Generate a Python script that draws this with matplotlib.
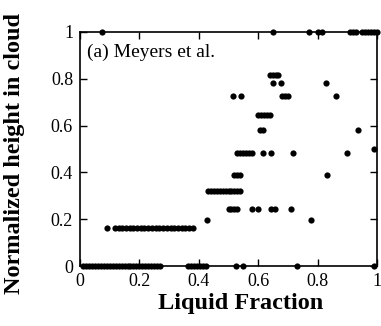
import numpy as np
import matplotlib.pyplot as plt

plt.rcParams['font.family'] = ['Liberation Serif', 'DejaVu Serif']

# liquid fraction / normalized height pairs, grouped by height level
x_h000 = [0.01, 0.02, 0.03, 0.04, 0.05, 0.06, 0.07, 0.08, 0.09, 0.10, 0.11, 0.12,
          0.13, 0.14, 0.15, 0.16, 0.17, 0.18, 0.19, 0.20, 0.21, 0.22, 0.23, 0.24,
          0.25, 0.26, 0.27, 0.365, 0.375, 0.385, 0.395, 0.405, 0.415, 0.425,
          0.525, 0.55, 0.73, 0.99]
x_h016 = [0.09, 0.118, 0.13, 0.142, 0.155, 0.167, 0.18, 0.192, 0.205, 0.217, 0.23,
          0.242, 0.255, 0.267, 0.28, 0.292, 0.305, 0.317, 0.33, 0.342, 0.355,
          0.367, 0.38]
x_h020 = [0.428, 0.777]
x_h024 = [0.50, 0.51, 0.52, 0.53, 0.58, 0.60, 0.643, 0.657, 0.71]
x_h032 = [0.43, 0.44, 0.45, 0.46, 0.47, 0.48, 0.49, 0.50, 0.51, 0.52, 0.53, 0.54]
x_h039 = [0.52, 0.53, 0.54, 0.83]
x_h048 = [0.53, 0.54, 0.55, 0.56, 0.57, 0.58, 0.617, 0.643, 0.717, 0.90]
x_h050 = [0.99]
x_h058 = [0.605, 0.617, 0.937]
x_h064 = [0.60, 0.61, 0.62, 0.63, 0.64]
x_h073 = [0.515, 0.542, 0.68, 0.69, 0.70, 0.862]
x_h078 = [0.65, 0.677, 0.828]
x_h082 = [0.64, 0.65, 0.66, 0.667]
x_h100 = [0.074, 0.65, 0.77, 0.80, 0.815, 0.91, 0.92, 0.93, 0.95, 0.96, 0.97,
          0.98, 0.99, 1.0]

levels = [0.0, 0.164, 0.197, 0.244, 0.322, 0.389, 0.483, 0.50, 0.581, 0.645,
          0.728, 0.782, 0.816, 1.0]
groups = [x_h000, x_h016, x_h020, x_h024, x_h032, x_h039, x_h048, x_h050,
          x_h058, x_h064, x_h073, x_h078, x_h082, x_h100]

xs = []
ys = []
for lev, g in zip(levels, groups):
    xs += g
    ys += [lev] * len(g)

fig = plt.figure(figsize=(3.81, 3.26), dpi=100)
ax = fig.add_axes([0.21, 0.184, 0.7795, 0.718])
ax.scatter(xs, ys, s=20, c='black', linewidths=0, clip_on=False, zorder=3)

ax.set_xlim(0, 1)
ax.set_ylim(0, 1)
ticks = [0, 0.2, 0.4, 0.6, 0.8, 1]
labels = ['0', '0.2', '0.4', '0.6', '0.8', '1']
ax.set_xticks(ticks)
ax.set_xticklabels(labels)
ax.set_yticks(ticks)
ax.set_yticklabels(labels)
ax.tick_params(direction='in', top=True, right=True, length=5, width=1,
               labelsize=13, pad=5)
for sp in ax.spines.values():
    sp.set_linewidth(1.2)

ax.set_xlabel('Liquid Fraction', fontsize=17.5, fontweight='bold')
ax.xaxis.set_label_coords(0.54, -0.115)
ax.set_ylabel('Normalized height in cloud', fontsize=17.5, fontweight='bold')
ax.yaxis.set_label_coords(-0.185, 0.48)
ax.text(0.025, 0.915, '(a) Meyers et al.', transform=ax.transAxes,
        fontsize=14, va='center', ha='left')

fig.savefig('out.png', dpi=100)
